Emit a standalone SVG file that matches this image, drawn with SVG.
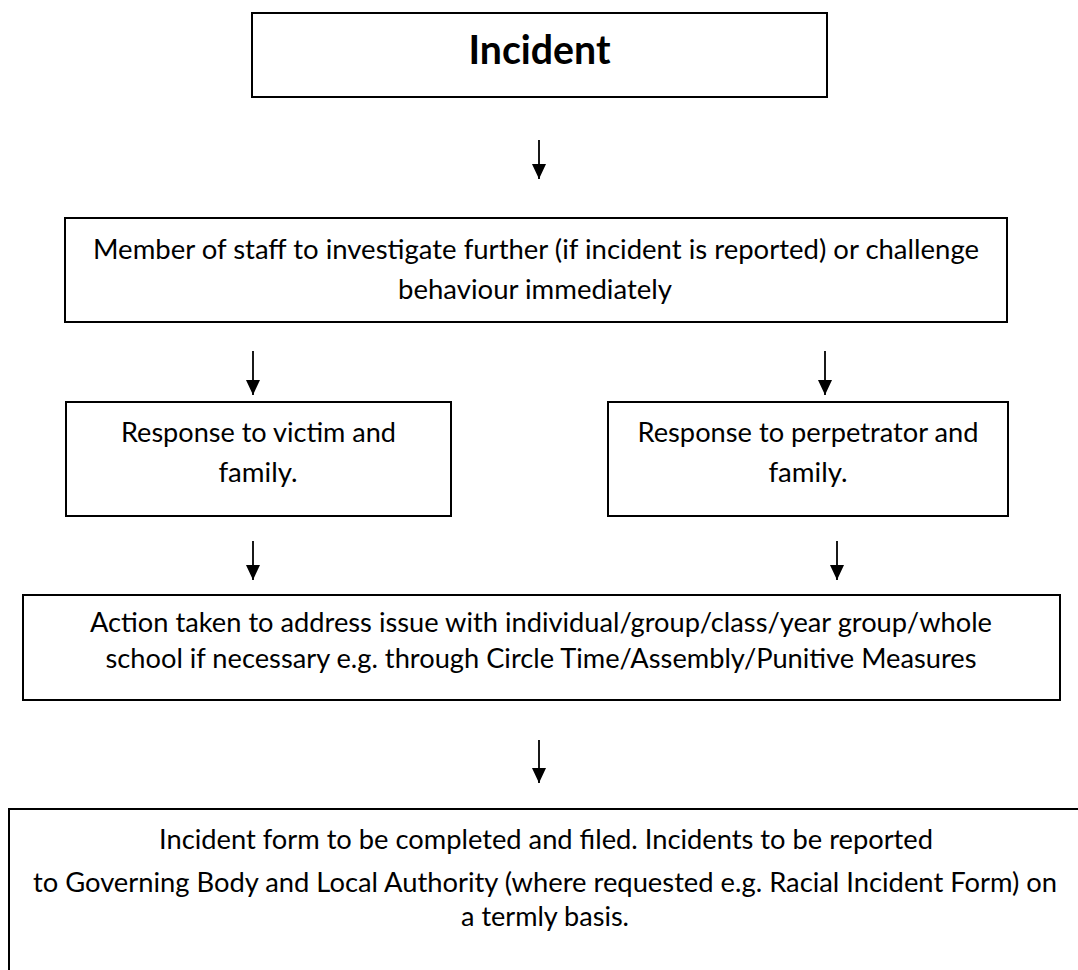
<svg xmlns="http://www.w3.org/2000/svg" width="1078" height="970" viewBox="0 0 1078 970">
<defs>
<style>
.box{fill:#fff;stroke:#000;stroke-width:2}
.t{font-family:Lato,"Liberation Sans",sans-serif;font-size:27px;fill:#000;text-anchor:middle}
.b{font-weight:bold;font-size:41px}
.c{stroke:#000;stroke-width:1.8;fill:none}
</style>
<marker id="ah" markerUnits="userSpaceOnUse" markerWidth="16" markerHeight="16" viewBox="0 0 16 16" refX="15" refY="8" orient="auto">
<path d="M0,1 L15,8 L0,15 Z" fill="#000"/>
</marker>
</defs>
<rect width="1078" height="970" fill="#fff"/>
<g id="connectors">
<line class="c" x1="539" y1="140" x2="539" y2="179" marker-end="url(#ah)"/>
<line class="c" x1="253" y1="351" x2="253" y2="395" marker-end="url(#ah)"/>
<line class="c" x1="825" y1="351" x2="825" y2="395" marker-end="url(#ah)"/>
<line class="c" x1="253" y1="541" x2="253" y2="580" marker-end="url(#ah)"/>
<line class="c" x1="837" y1="541" x2="837" y2="580" marker-end="url(#ah)"/>
<line class="c" x1="539" y1="740" x2="539" y2="783" marker-end="url(#ah)"/>
</g>
<g id="incident">
<rect class="box" x="252" y="13" width="575" height="84"/>
<text class="t b" x="539.5" y="64" textLength="142" lengthAdjust="spacingAndGlyphs">Incident</text>
</g>
<g id="investigate">
<rect class="box" x="65" y="218" width="942" height="104"/>
<text class="t" x="536" y="259" textLength="886" lengthAdjust="spacingAndGlyphs">Member of staff to investigate further (if incident is reported) or challenge</text>
<text class="t" x="535" y="299" textLength="274" lengthAdjust="spacingAndGlyphs">behaviour immediately</text>
</g>
<g id="victim">
<rect class="box" x="66" y="402" width="385" height="114"/>
<text class="t" x="258.5" y="442" textLength="275" lengthAdjust="spacingAndGlyphs">Response to victim and</text>
<text class="t" x="258" y="482" textLength="79" lengthAdjust="spacingAndGlyphs">family.</text>
</g>
<g id="perpetrator">
<rect class="box" x="608" y="402" width="400" height="114"/>
<text class="t" x="808" y="442" textLength="341" lengthAdjust="spacingAndGlyphs">Response to perpetrator and</text>
<text class="t" x="808" y="482" textLength="79" lengthAdjust="spacingAndGlyphs">family.</text>
</g>
<g id="action">
<rect class="box" x="23" y="595" width="1037" height="105"/>
<text class="t" x="541" y="632" textLength="902" lengthAdjust="spacingAndGlyphs">Action taken to address issue with individual/group/class/year group/whole</text>
<text class="t" x="541" y="668" textLength="871" lengthAdjust="spacingAndGlyphs">school if necessary e.g. through Circle Time/Assembly/Punitive Measures</text>
</g>
<g id="report">
<rect class="box" x="9" y="809" width="1080" height="170"/>
<text class="t" x="546" y="849" textLength="774" lengthAdjust="spacingAndGlyphs">Incident form to be completed and filed. Incidents to be reported</text>
<text class="t" x="545" y="892" textLength="1024" lengthAdjust="spacingAndGlyphs">to Governing Body and Local Authority (where requested e.g. Racial Incident Form) on</text>
<text class="t" x="545" y="926" textLength="168" lengthAdjust="spacingAndGlyphs">a termly basis.</text>
</g>
</svg>
